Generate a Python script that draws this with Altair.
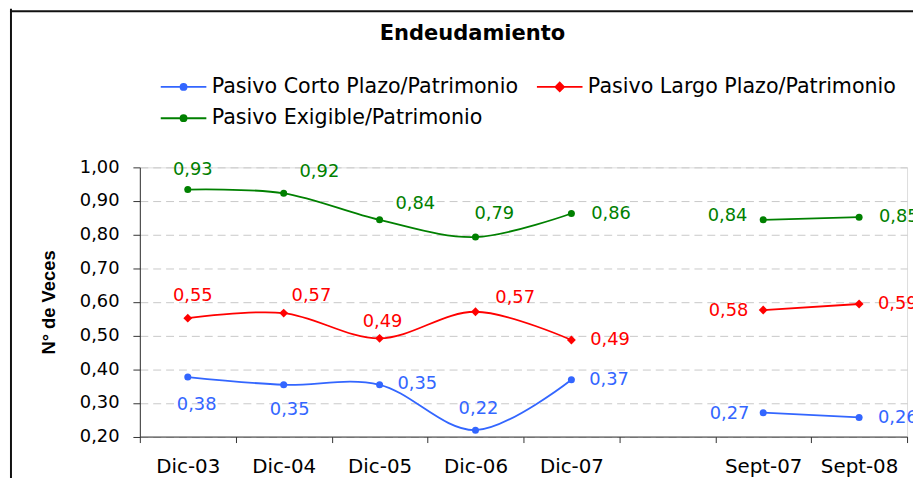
import altair as alt
import pandas as pd

# ---------------- data ----------------
categories = ["Dic-03", "Dic-04", "Dic-05", "Dic-06", "Dic-07", " ", "Sept-07", "Sept-08"]
point_cats = ["Dic-03", "Dic-04", "Dic-05", "Dic-06", "Dic-07", "Sept-07", "Sept-08"]
segments = ["Dic", "Dic", "Dic", "Dic", "Dic", "Sept", "Sept"]

series_names = [
    "Pasivo Corto Plazo/Patrimonio",
    "Pasivo Largo Plazo/Patrimonio",
    "Pasivo Exigible/Patrimonio",
]
series_colors = ["#3366FF", "#FF0000", "#008000"]

corto_values = [0.377, 0.354, 0.354, 0.219, 0.369, 0.271, 0.257]
largo_values = [0.552, 0.567, 0.492, 0.571, 0.487, 0.576, 0.594]
exigible_values = [0.934, 0.923, 0.844, 0.793, 0.863, 0.844, 0.852]

# data-label placement offsets (pixels, relative to each point)
corto_dx = [9, 6, 38, 3, 38, -34, 39]
corto_dy = [27, 24, -1.5, -22, -1, 0, 0]
largo_dx = [5, 28, 3, 40, 39, -35, 39]
largo_dy = [-23, -18, -17, -14.5, -1, 0, -1]
exigible_dx = [5, 36, 36, 19, 40, -36, 40]
exigible_dy = [-21, -22, -17, -24.5, 0, -5, -1]

y_ticks = [0.2, 0.3, 0.4, 0.5, 0.6, 0.7, 0.8, 0.9, 1.0]

rows = []
for name, vals, dxs, dys in zip(
    series_names,
    [corto_values, largo_values, exigible_values],
    [corto_dx, largo_dx, exigible_dx],
    [corto_dy, largo_dy, exigible_dy],
):
    for cat, seg, v, dx, dy in zip(point_cats, segments, vals, dxs, dys):
        rows.append(dict(cat=cat, segment=seg, series=name, value=v, dx=dx, dy=dy))
df = pd.DataFrame(rows)

# ---------------- layout ----------------
W, H = 774, 271.6
PAD = {"left": 133, "top": 158.7, "right": 6, "bottom": 40}
FONT = "DejaVu Sans"

circle_path = ("M-3.286,0L3.286,0M-0.42,0A0.42,0.42,0,1,1,0.42,0"
               "A0.42,0.42,0,1,1,-0.42,0Z")
diamond_path = "M-3.286,0L3.286,0M0,-0.6L0.6,0L0,0.6L-0.6,0Z"
sym_expr = ("datum.value === '%s' ? '%s' : '%s'"
            % (series_names[1], diamond_path, circle_path))
col_expr = ("datum.value === '%s' ? '%s' : datum.value === '%s' ? '%s' : '%s'"
            % (series_names[0], series_colors[0], series_names[1], series_colors[1],
               series_colors[2]))

legend = alt.Legend(
    title=None,
    orient="none",
    legendX=33.7,
    legendY=-92,
    columns=2,
    padding=0,
    values=[series_names[0], series_names[2], series_names[1]],
    labelFont=FONT,
    labelFontSize=20.8,
    labelColor="black",
    labelLimit=500,
    labelOffset=18,
    symbolSize=196,
    symbolType=alt.ExprRef(sym_expr),
    symbolFillColor=alt.ExprRef(col_expr),
    symbolStrokeColor=alt.ExprRef(col_expr),
    symbolStrokeWidth=2,
    symbolOpacity=1,
    columnPadding=14.5,
    rowPadding=10,
)

x_enc = alt.X(
    "cat:N",
    scale=alt.Scale(domain=categories, type="band", paddingInner=0, paddingOuter=0),
    axis=alt.Axis(
        title=None,
        labelAngle=0,
        labelFont=FONT,
        labelFontSize=20,
        labelColor="black",
        labelPadding=14,
        tickBand="extent",
        tickSize=6,
        tickColor="#333333",
        domainColor="#333333",
        grid=False,
    ),
)
y_enc = alt.Y(
    "value:Q",
    scale=alt.Scale(domain=[0.2, 1.0], nice=False, zero=False),
    axis=alt.Axis(
        title="N° de Veces",
        titleFont="Liberation Sans",
        titleFontSize=18.5,
        titleFontWeight="bold",
        titleColor="black",
        titleAngle=270,
        titleBaseline="middle",
        titleX=-91.7,
        values=y_ticks,
        labelExpr="replace(format(datum.value, '.2f'), '.', ',')",
        labelFont=FONT,
        labelFontSize=18,
        labelColor="black",
        labelPadding=14,
        tickSize=7,
        tickColor="#333333",
        domainColor="#333333",
        grid=True,
        gridColor="#c8c8c8",
        gridDash=[8, 5],
    ),
)
color_scale = alt.Scale(domain=series_names, range=series_colors)
color_enc = alt.Color("series:N", scale=color_scale, legend=legend)

base = alt.Chart(df)

lines = base.mark_line(interpolate="cardinal", strokeWidth=1.8).encode(
    x=x_enc,
    y=y_enc,
    color=color_enc,
    detail="segment:N",
)

circles = base.transform_filter(
    alt.datum.series != series_names[1]
).mark_point(shape="circle", filled=True, opacity=1, size=50).encode(
    x=x_enc, y=y_enc, color=color_enc,
)
diamonds = base.transform_filter(
    alt.datum.series == series_names[1]
).mark_point(shape="diamond", filled=True, opacity=1, size=80).encode(
    x=x_enc, y=y_enc, color=color_enc,
)

labels = base.transform_calculate(
    label="replace(format(datum.value, '.2f'), '.', ',')"
).mark_text(
    font=FONT,
    fontSize=18,
    align="center",
    baseline="middle",
    dx=alt.ExprRef("datum.dx"),
    dy=alt.ExprRef("datum.dy + 1"),
).encode(
    x=x_enc,
    y=y_enc,
    text="label:N",
    color=color_enc,
)

frame_df = pd.DataFrame({"a": [0]})
frame_left = alt.Chart(frame_df).mark_rule(color="#111111", strokeWidth=2).encode(
    x=alt.value(-130), y=alt.value(-160), y2=alt.value(400)
)
frame_top = alt.Chart(frame_df).mark_rule(color="#111111", strokeWidth=2).encode(
    x=alt.value(-131), x2=alt.value(800), y=alt.value(-157.6)
)

chart = alt.layer(lines, circles, diamonds, labels, frame_left, frame_top).properties(
    width=W,
    height=H,
    padding=PAD,
    autosize=alt.AutoSizeParams(type="none"),
    title=alt.Title(
        "Endeudamiento",
        font=FONT,
        fontSize=21.2,
        fontWeight="bold",
        color="black",
        anchor="middle",
        frame="group",
        dx=-51.5,
        offset=-54,
        baseline="alphabetic",
    ),
).configure_view(stroke=None).configure(background="white")

chart.save("out.html", embed_options={"renderer": "svg", "actions": False})
